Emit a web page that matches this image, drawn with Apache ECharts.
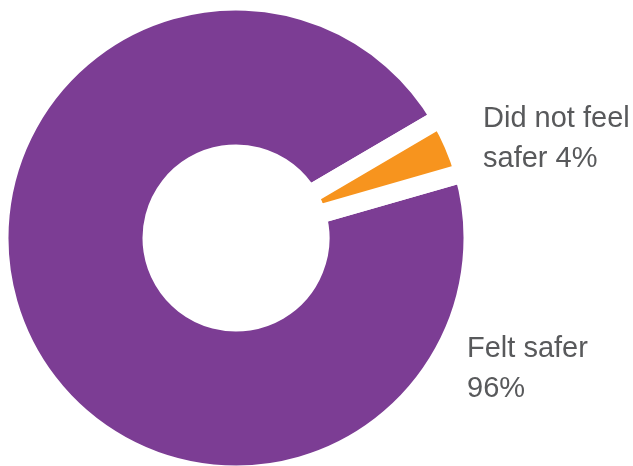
<!DOCTYPE html>
<html>
<head>
<meta charset="utf-8">
<style>
  html, body { margin: 0; padding: 0; background: #ffffff; }
  #chart { width: 633px; height: 466px; }
</style>
<script src="https://cdn.jsdelivr.net/npm/echarts@6/dist/echarts.min.js"></script>
</head>
<body>
<div id="chart"></div>
<script>
// Survey answers: share of respondents (percent)
const categories = ['Felt safer', 'Did not feel safer'];
const values = [96, 4];
const colors = ['#7c3d94', '#f7941e'];

// Greedy word wrap so each label line stays within a few words
function wrap(text, maxChars) {
  const words = text.split(' ');
  const lines = [];
  let line = '';
  words.forEach(w => {
    const next = line ? line + ' ' + w : w;
    if (next.length > maxChars && line) {
      lines.push(line);
      line = w;
    } else {
      line = next;
    }
  });
  if (line) lines.push(line);
  return lines.join('\n');
}

// Label anchor (top-left of the text block) for each slice
const labelAnchors = [
  { x: 467, y: 329 },
  { x: 483, y: 99 }
];

const chart = echarts.init(document.getElementById('chart'), null, { renderer: 'canvas' });

chart.setOption({
  animation: false,
  backgroundColor: '#ffffff',
  series: [{
    type: 'pie',
    center: [236, 238],
    radius: [84, 237],
    startAngle: 16,
    clockwise: true,
    avoidLabelOverlap: false,
    silent: true,
    itemStyle: {
      borderColor: '#ffffff',
      borderWidth: 19,
      borderJoin: 'miter'
    },
    label: {
      show: true,
      position: 'outside',
      overflow: 'none',
      color: '#58595b',
      fontFamily: '"Liberation Sans", Arial, Helvetica, sans-serif',
      fontSize: 29,
      lineHeight: 40,
      align: 'left',
      formatter: p => wrap(p.name + ' ' + p.value + '%', 12)
    },
    labelLine: { show: false },
    labelLayout: p => ({
      x: labelAnchors[p.dataIndex].x,
      y: labelAnchors[p.dataIndex].y,
      align: 'left',
      verticalAlign: 'top'
    }),
    data: categories.map((name, i) => ({
      name: name,
      value: values[i],
      itemStyle: { color: colors[i] }
    }))
  }]
});
</script>
</body>
</html>
